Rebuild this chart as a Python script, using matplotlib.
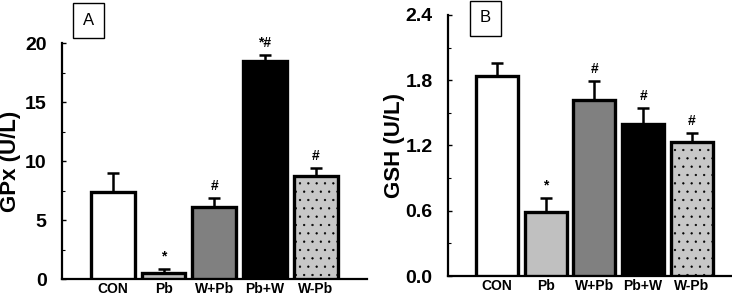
import matplotlib.pyplot as plt
import numpy as np

groups = ['CON', 'Pb', 'W+Pb', 'Pb+W', 'W-Pb']
gpx_mean = [7.35, 0.5, 6.1, 18.5, 8.7]
gpx_err = [1.65, 0.35, 0.75, 0.45, 0.7]
gpx_marks = ['', '*', '#', '*#', '#']
gsh_mean = [1.84, 0.59, 1.62, 1.40, 1.23]
gsh_err = [0.12, 0.13, 0.17, 0.14, 0.08]
gsh_marks = ['', '*', '#', '#', '#']

colors = ['white', '#c0c0c0', '#808080', 'black', '#c8c8c8']
hatches = [None, None, None, None, '..']

plt.rcParams['font.family'] = ['Liberation Sans', 'DejaVu Sans']
plt.rcParams['hatch.color'] = 'black'
plt.rcParams['hatch.linewidth'] = 0.4

fig = plt.figure(figsize=(7.32, 2.95), dpi=100)


def panel(rect, means, errs, marks, ylim, yticks, ylabel, letter, box, labelx):
    ax = fig.add_axes(rect)
    x = np.arange(len(groups))
    bars = ax.bar(x, means, width=0.86, color=colors, edgecolor='black',
                  linewidth=2.4, zorder=3)
    for b, h in zip(bars, hatches):
        if h:
            b.set_hatch(h)
    ax.errorbar(x, means, yerr=[np.zeros(len(errs)), errs], fmt='none',
                ecolor='black', elinewidth=1.8, capsize=4.5, capthick=1.8,
                zorder=2)
    for xi, m, e, s in zip(x, means, errs, marks):
        if s:
            ax.annotate(s, (xi, m + e), xytext=(0, 4), textcoords='offset points',
                        ha='center', va='bottom', fontsize=10,
                        fontweight='bold', annotation_clip=False)
    ax.set_xlim(-1, 5)
    ax.set_ylim(*ylim)
    ax.set_yticks(yticks)
    ax.set_yticks([(a + b) / 2 for a, b in zip(yticks[:-1], yticks[1:])],
                  minor=True)
    ax.set_xticks(x)
    ax.set_xticklabels(groups, fontsize=10, fontweight='bold')
    ax.tick_params(axis='x', length=0, pad=2)
    ax.tick_params(axis='y', direction='in', length=3, width=1,
                   labelsize=14, pad=11)
    ax.tick_params(axis='y', which='minor', direction='in', length=2, width=0.8)
    for s in ['top', 'right']:
        ax.spines[s].set_visible(False)
    for s in ['left', 'bottom']:
        ax.spines[s].set_linewidth(1.6)
    ax.set_ylabel(ylabel, fontsize=16, fontweight='bold')
    ax.yaxis.set_label_coords(labelx, 0.5)
    fig.text(box[0], box[1], letter, fontsize=12, ha='center', va='center',
             bbox=dict(boxstyle='square,pad=0.6', fc='white', ec='black', lw=1))
    return ax


axA = panel([0.0847, 0.0542, 0.416, 0.8], gpx_mean, gpx_err, gpx_marks,
            (0, 20), [0, 5, 10, 15, 20], 'GPx (U/L)', 'A',
            (88.5 / 732, 1 - 20.5 / 295), -0.135)
axB = panel([0.612, 0.0644, 0.40, 0.885], gsh_mean, gsh_err, gsh_marks,
            (0, 2.4), [0.0, 0.6, 1.2, 1.8, 2.4], 'GSH (U/L)', 'B',
            (485.5 / 732, 1 - 18 / 295), -0.148)
axB.set_yticklabels(['0.0', '0.6', '1.2', '1.8', '2.4'])
for ax in (axA, axB):
    for t in ax.get_yticklabels():
        t.set_fontweight('bold')

fig.savefig('out.png', dpi=100)
